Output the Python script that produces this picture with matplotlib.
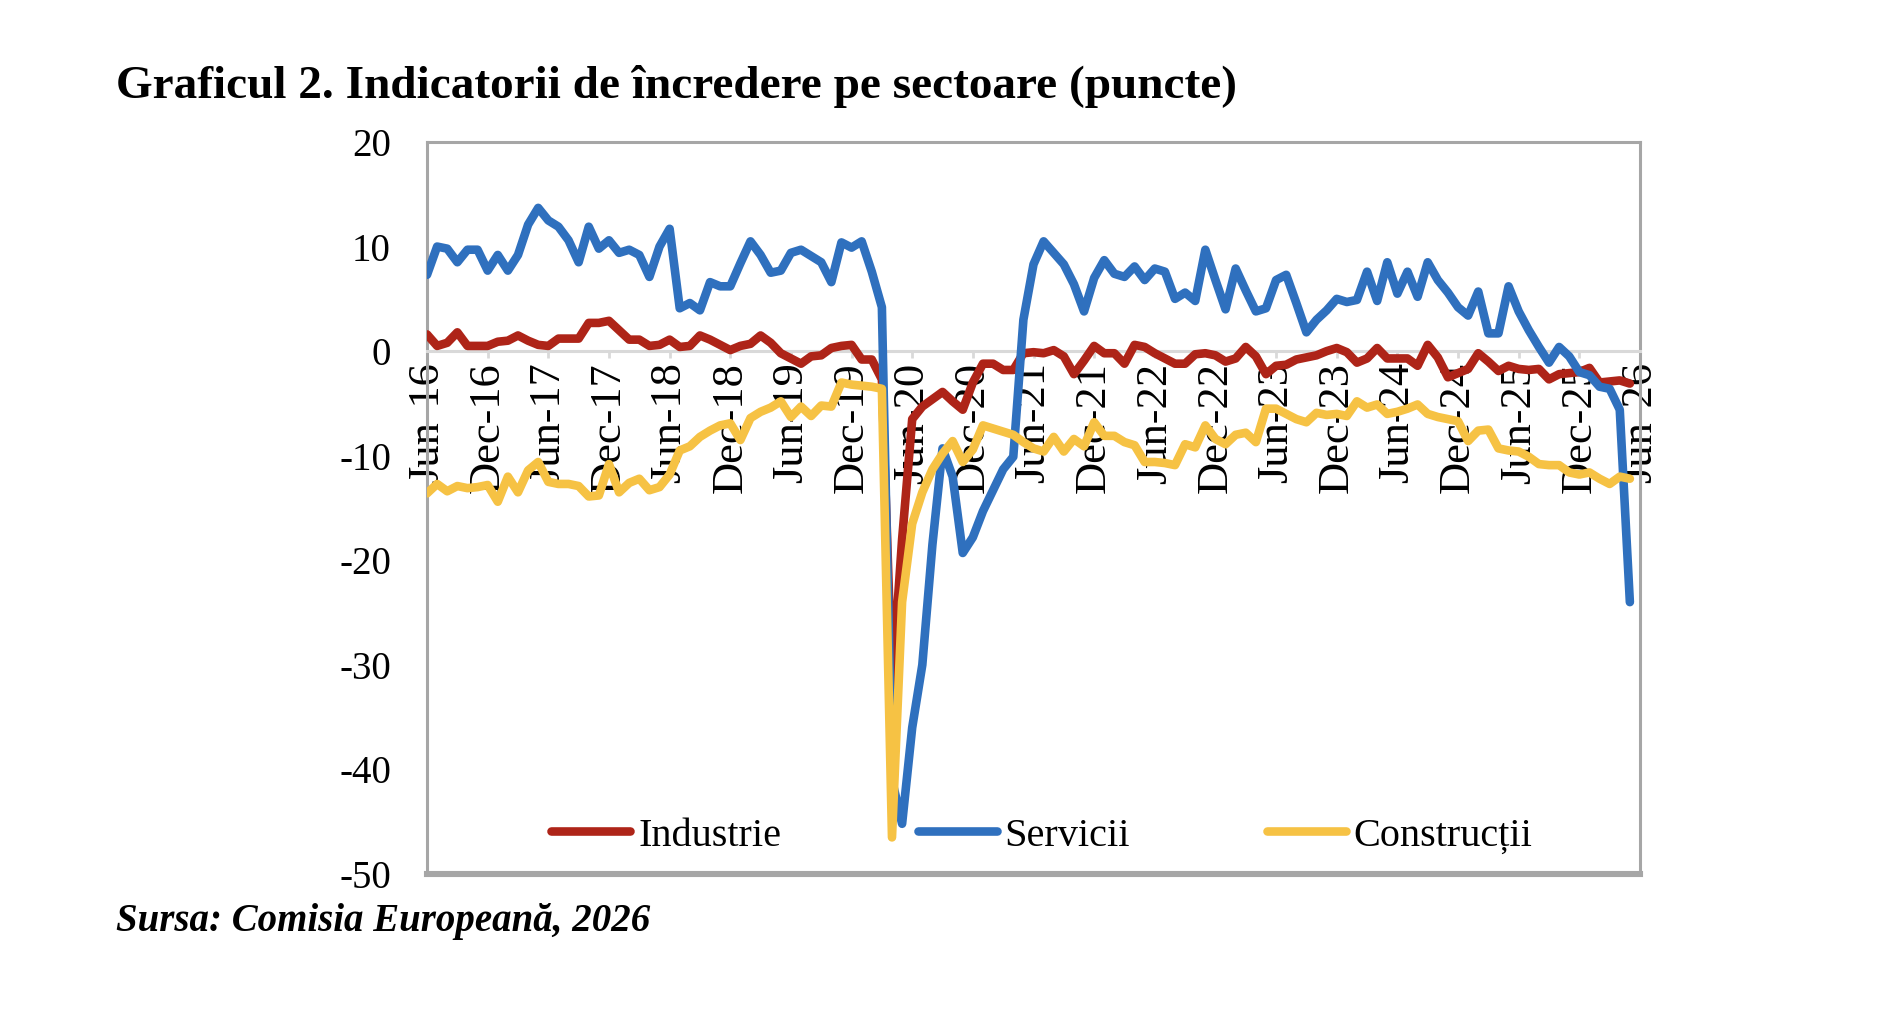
################################################################################
# Imports                                                                      #
################################################################################
import matplotlib

matplotlib.use("Agg")

import matplotlib.pyplot as plt
import numpy as np

################################################################################
# data                                                                         #
################################################################################
# Monthly values, Jun-16 .. May-26 (one value per month).
industrie = [
    1.6, 0.5, 0.8, 1.8, 0.5, 0.5, 0.5, 0.9, 1.0, 1.5,
    1.0, 0.6, 0.5, 1.2, 1.2, 1.2, 2.7, 2.7, 2.9, 2.0,
    1.1, 1.1, 0.5, 0.6, 1.1, 0.4, 0.5, 1.5, 1.1, 0.6,
    0.1, 0.5, 0.7, 1.5, 0.8, -0.2, -0.7, -1.2, -0.5, -0.4,
    0.3, 0.5, 0.6, -0.8, -0.8, -2.7, -32.0, -18.0, -6.5, -5.3,
    -4.6, -3.9, -4.8, -5.6, -3.0, -1.2, -1.2, -1.8, -1.8, -0.2,
    -0.1, -0.2, 0.1, -0.5, -2.2, -0.9, 0.5, -0.2, -0.2, -1.2,
    0.6, 0.4, -0.2, -0.7, -1.2, -1.2, -0.3, -0.2, -0.4, -1.0,
    -0.7, 0.4, -0.5, -2.2, -1.4, -1.3, -0.8, -0.6, -0.4, 0.0,
    0.3, -0.1, -1.1, -0.7, 0.3, -0.7, -0.7, -0.7, -1.4, 0.6,
    -0.6, -2.5, -2.1, -1.7, -0.2, -1.0, -1.9, -1.4, -1.7, -1.8,
    -1.7, -2.7, -2.2, -2.1, -2.0, -1.6, -3.0, -2.9, -2.8, -3.1,
]

servicii = [
    7.3, 10.0, 9.8, 8.5, 9.7, 9.7, 7.7, 9.2, 7.7, 9.2,
    12.1, 13.7, 12.5, 11.9, 10.6, 8.5, 11.9, 9.8, 10.6, 9.4,
    9.7, 9.2, 7.1, 10.0, 11.7, 4.1, 4.6, 3.9, 6.6, 6.2,
    6.2, 8.4, 10.5, 9.2, 7.5, 7.7, 9.4, 9.7, 9.1, 8.5,
    6.6, 10.4, 9.9, 10.5, 7.6, 4.2, -41.0, -45.2, -36.0, -30.0,
    -18.5, -9.3, -12.0, -19.3, -17.8, -15.3, -13.3, -11.3, -10.1, 3.0,
    8.3, 10.5, 9.4, 8.3, 6.4, 3.8, 7.0, 8.7, 7.4, 7.1,
    8.1, 6.8, 7.9, 7.6, 5.0, 5.6, 4.8, 9.7, 6.8, 4.0,
    7.9, 5.8, 3.8, 4.1, 6.8, 7.3, 4.6, 1.8, 3.0, 3.9,
    5.0, 4.7, 4.9, 7.6, 4.8, 8.5, 5.5, 7.6, 5.2, 8.5,
    6.8, 5.6, 4.2, 3.4, 5.7, 1.7, 1.7, 6.2, 3.8, 2.0,
    0.4, -1.1, 0.4, -0.5, -2.0, -2.3, -3.4, -3.6, -5.6, -24.0,
]

constructii = [
    -13.6, -12.7, -13.4, -12.9, -13.1, -13.0, -12.8, -14.4, -12.0, -13.5,
    -11.4, -10.6, -12.5, -12.7, -12.7, -12.9, -13.9, -13.8, -10.8, -13.5,
    -12.6, -12.2, -13.3, -13.0, -11.8, -9.5, -9.1, -8.2, -7.6, -7.1,
    -6.9, -8.5, -6.4, -5.8, -5.4, -4.8, -6.3, -5.3, -6.2, -5.2,
    -5.3, -3.0, -3.2, -3.3, -3.4, -3.6, -46.5, -24.0, -16.5, -13.5,
    -11.3, -9.8, -8.6, -10.6, -9.4, -7.1, -7.4, -7.7, -8.0, -8.7,
    -9.3, -9.6, -8.2, -9.6, -8.4, -9.1, -6.8, -8.1, -8.1, -8.7,
    -9.0, -10.6, -10.6, -10.7, -10.9, -8.9, -9.2, -7.1, -8.4, -8.9,
    -8.0, -7.8, -8.7, -5.5, -5.5, -6.0, -6.5, -6.8, -5.9, -6.1,
    -6.0, -6.2, -4.8, -5.4, -5.1, -6.0, -5.8, -5.5, -5.1, -6.0,
    -6.3, -6.5, -6.7, -8.6, -7.6, -7.5, -9.3, -9.5, -9.6, -10.1,
    -10.8, -10.9, -10.9, -11.6, -11.8, -11.6, -12.2, -12.7, -12.0, -12.2,
]

tickLabels = [
    "Jun-16", "Dec-16", "Jun-17", "Dec-17", "Jun-18", "Dec-18", "Jun-19",
    "Dec-19", "Jun-20", "Dec-20", "Jun-21", "Dec-21", "Jun-22", "Dec-22",
    "Jun-23", "Dec-23", "Jun-24", "Dec-24", "Jun-25", "Dec-25", "Jun-26",
]

seriesNames = ["Industrie", "Servicii", "Construcții"]
seriesColors = ["#AE2418", "#2F70BE", "#F6C244"]

titleText = "Graficul 2. Indicatorii de încredere pe sectoare (puncte)"
sourceText = "Sursa: Comisia Europeană, 2026"

################################################################################
# plot                                                                         #
################################################################################
plt.rcParams["font.family"] = ["Liberation Serif", "DejaVu Serif"]
plt.rcParams["axes.unicode_minus"] = False

fig = plt.figure(figsize=(18.82, 10.32), dpi=100)
ax = fig.add_axes([0.2269, 0.1531, 0.6445, 0.7093])

months = np.arange(len(servicii))
allSeries = [industrie, servicii, constructii]

# Excel draws the series in order, so later ones sit on top.
for index, values in enumerate(allSeries):
    ax.plot(
        months,
        values,
        color=seriesColors[index],
        lw=6.2,
        label=seriesNames[index],
        solid_capstyle="round",
        solid_joinstyle="round",
        zorder=3 + index,
    )

ax.set_xlim(0, 120)
ax.set_ylim(-50, 20)

# The category axis crosses at zero, the frame stays around the plot area.
frameColor = "#a6a6a6"
ax.spines["bottom"].set_position(("data", 0))
ax.spines["bottom"].set_color("#d9d9d9")
ax.spines["bottom"].set_linewidth(2.2)
for side in ["left", "top", "right"]:
    ax.spines[side].set_color(frameColor)
    ax.spines[side].set_linewidth(2.2)
ax.axhline(-50, color=frameColor, lw=4.4, clip_on=False, zorder=2.5)

ax.set_xticks(np.arange(0, 121, 6))
ax.set_xticklabels(tickLabels, rotation=90, fontsize=32)
ax.tick_params(axis="x", direction="out", length=5, width=2,
               color="#d9d9d9", pad=3)

ax.set_yticks(np.arange(-50, 21, 10))
ax.set_yticklabels([str(v) for v in range(-50, 21, 10)], fontsize=28)
ax.tick_params(axis="y", length=0, pad=26)

legend = ax.legend(
    loc="center",
    bbox_to_anchor=(0.507, 0.052),
    ncol=3,
    frameon=False,
    fontsize=29,
    handlelength=1.95,
    handletextpad=0.2,
    columnspacing=3.4,
)

fig.text(116 / 1882, 0.905, titleText, fontsize=34, fontweight="bold",
         ha="left", va="baseline")
fig.text(116 / 1882, 0.098, sourceText, fontsize=28, fontweight="bold",
         fontstyle="italic", ha="left", va="baseline")

fig.savefig("out.png", dpi=100)
plt.close(fig)
